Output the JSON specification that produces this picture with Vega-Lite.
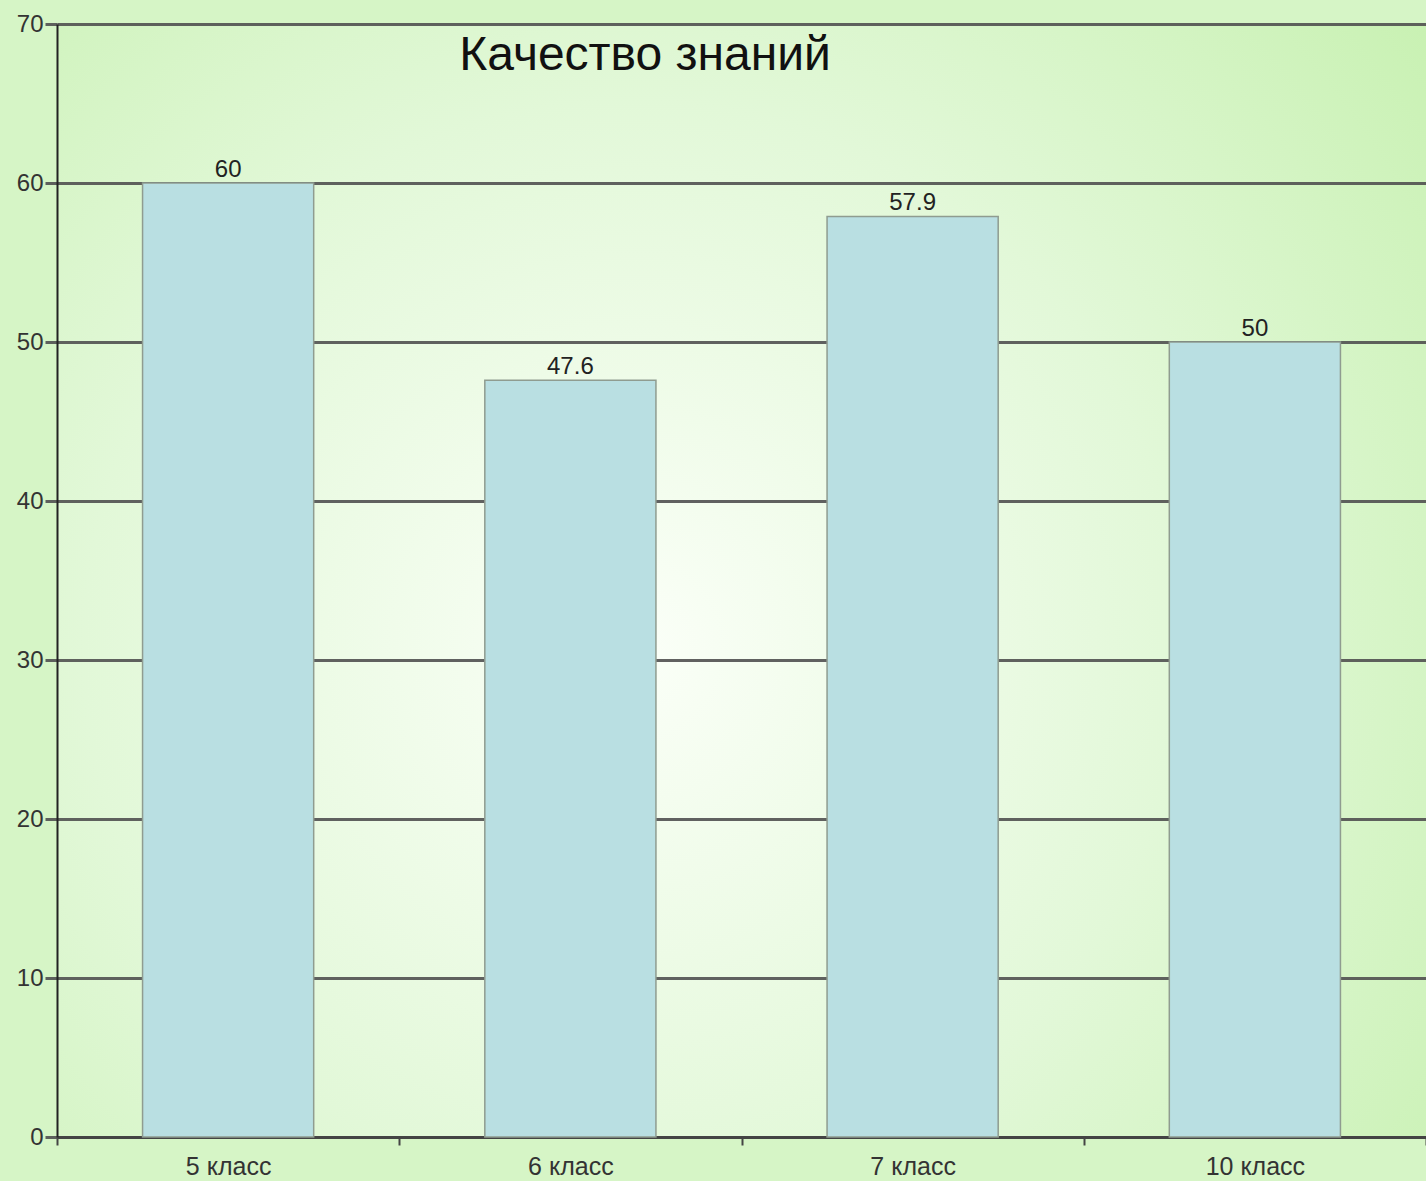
{
  "$schema": "https://vega.github.io/schema/vega-lite/v6.json",
  "width": 1369,
  "height": 1113,
  "autosize": {"type": "none"},
  "padding": {"left": 57, "top": 24, "right": 0, "bottom": 44},
  "background": "#d6f5c6",
  "title": {
    "text": "Качество знаний",
    "anchor": "start",
    "orient": "top",
    "offset": 0,
    "dx": 443,
    "dy": 68,
    "font": "Liberation Sans",
    "fontSize": 48,
    "fontWeight": "normal",
    "color": "#111111"
  },
  "config": {
    "view": {
      "stroke": null,
      "fill": {
        "gradient": "radial",
        "x1": 0.42, "y1": 0.55, "r1": 0,
        "x2": 0.42, "y2": 0.55, "r2": 0.8,
        "stops": [
          {"offset": 0, "color": "#fbfff8"},
          {"offset": 0.5, "color": "#e2f8d8"},
          {"offset": 1, "color": "#c4f0ac"}
        ]
      }
    },
    "axis": {
      "labelFont": "Liberation Sans",
      "labelFontSize": 24,
      "labelColor": "#333333",
      "titleFontSize": 0
    }
  },
  "data": {
    "values": [
      {"class": "5 класс", "value": 60},
      {"class": "6 класс", "value": 47.6},
      {"class": "7 класс", "value": 57.9},
      {"class": "10 класс", "value": 50}
    ]
  },
  "encoding": {
    "x": {
      "field": "class",
      "type": "nominal",
      "sort": null,
      "scale": {"paddingInner": 0, "paddingOuter": 0},
      "axis": {
        "title": null,
        "labelAngle": 0,
        "tickBand": "extent",
        "tickSize": 8,
        "tickWidth": 2,
        "tickColor": "#444444",
        "domainColor": "#444444",
        "domainWidth": 3,
        "labelPadding": 9,
        "labelFontSize": 25
      }
    }
  },
  "layer": [
    {
      "mark": {"type": "bar", "width": {"band": 0.5}, "fill": "#b9dfe2", "stroke": "#8f9c90", "strokeWidth": 1.5},
      "encoding": {
        "y": {
          "field": "value",
          "type": "quantitative",
          "scale": {"domain": [0, 70], "nice": false},
          "axis": {
            "title": null,
            "values": [0, 10, 20, 30, 40, 50, 60, 70],
            "grid": true,
            "gridColor": "#505050",
            "gridWidth": 3,
            "gridOpacity": 0.9,
            "tickSize": 12,
            "tickWidth": 3,
            "tickColor": "#505050",
            "tickOpacity": 0.9,
            "domainColor": "#222222",
            "domainWidth": 2,
            "labelPadding": 2,
            "labelFontSize": 24
          }
        }
      }
    },
    {
      "mark": {"type": "text", "baseline": "bottom", "dy": -1, "font": "Liberation Sans", "fontSize": 24, "color": "#222222"},
      "encoding": {
        "y": {"field": "value", "type": "quantitative"},
        "text": {"field": "value", "type": "quantitative"}
      }
    }
  ]
}
